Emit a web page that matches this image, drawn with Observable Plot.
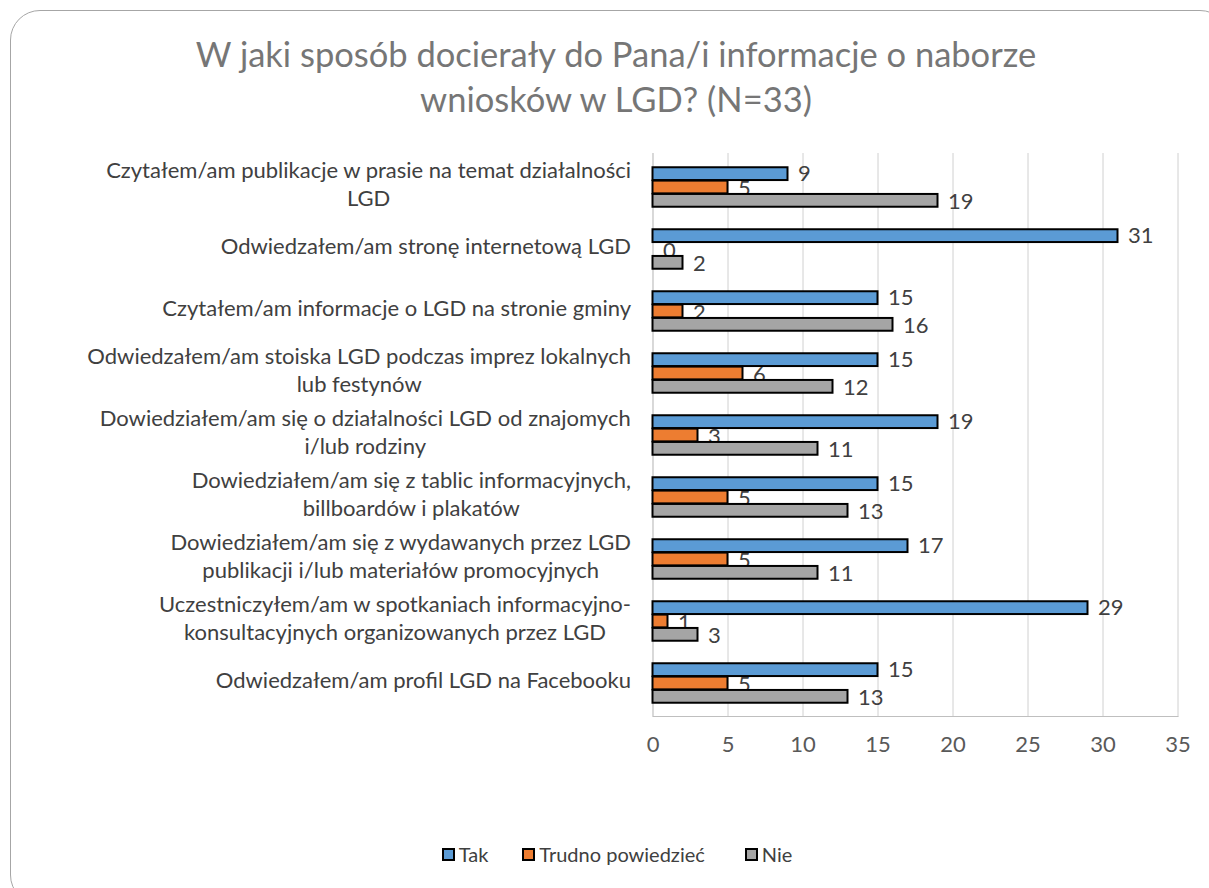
<!DOCTYPE html>
<html>
<head>
<meta charset="utf-8">
<script src="https://cdn.jsdelivr.net/npm/d3@7"></script>
<script src="https://cdn.jsdelivr.net/npm/@observablehq/plot@0.6"></script>
<style>
  html, body { margin: 0; padding: 0; background: #ffffff; }
  body { width: 1209px; height: 888px; overflow: hidden; position: relative; font-family: Lato, "Open Sans", sans-serif; }
  #frame { position: absolute; left: 10px; top: 10px; width: 1220px; height: 895px; border: 1.5px solid #a6a6a6; border-radius: 30px; box-sizing: border-box; }
  #title { position: absolute; left: 0; top: 31px; width: 1232px; text-align: center; font-size: 34.5px; line-height: 45px; color: #767676; }
  #chart { position: absolute; left: 0; top: 138px; }
  #legend { position: absolute; left: 0; top: 842px; width: 1234px; display: flex; justify-content: center; align-items: center; font-size: 20px; color: #404040; }
  .item { display: flex; align-items: center; margin: 0 17px 0 17px; }
  .item.mid { margin-right: 23px; }
  .sw { width: 9px; height: 9px; border: 2px solid #000; margin-right: 4px; }
</style>
</head>
<body>
<div id="frame"></div>
<div id="title">W jaki sposób docierały do Pana/i informacje o naborze<br>wniosków w LGD? (N=33)</div>
<div id="chart"></div>
<div id="legend"></div>
<script>
const categories = [
  "Czytałem/am publikacje w prasie na temat działalności\nLGD",
  "Odwiedzałem/am stronę internetową LGD",
  "Czytałem/am informacje o LGD na stronie gminy",
  "Odwiedzałem/am stoiska LGD podczas imprez lokalnych\nlub festynów",
  "Dowiedziałem/am się o działalności LGD od znajomych\ni/lub rodziny",
  "Dowiedziałem/am się z tablic informacyjnych,\nbillboardów i plakatów",
  "Dowiedziałem/am się z wydawanych przez LGD\npublikacji i/lub materiałów promocyjnych",
  "Uczestniczyłem/am w spotkaniach informacyjno-\nkonsultacyjnych organizowanych przez LGD",
  "Odwiedzałem/am profil LGD na Facebooku"
];
const seriesNames = ["Tak", "Trudno powiedzieć", "Nie"];
const tak    = [9, 31, 15, 15, 19, 15, 17, 29, 15];
const trudno = [5, 0, 2, 6, 3, 5, 5, 1, 5];
const nie    = [19, 2, 16, 12, 11, 13, 11, 3, 13];
const xTicks = [0, 5, 10, 15, 20, 25, 30, 35];
const colors = ["#5B9BD5", "#ED7D31", "#A5A5A5"];

const seriesValues = [tak, trudno, nie];
const tables = seriesValues.map((vals, s) =>
  categories.map((c, i) => ({category: c, series: seriesNames[s], value: vals[i]}))
);

// layout
const W = 1209, H = 630, mt = 15, mb = 52, ml = 652.5, mr = 31.5;
const step = (H - mt - mb) / categories.length;
const group = step * 0.64;
const gap = (step - group) / 2;
const bh = group / 3;

const marks = [
  Plot.gridX(xTicks.slice(1), {stroke: "#d0d0d0", strokeOpacity: 1, strokeWidth: 1}),
  Plot.ruleX([0], {stroke: "#bfbfbf", strokeWidth: 1.2}),
  Plot.frame({anchor: "bottom", stroke: "#bfbfbf", strokeWidth: 1.2})
];
const barOpts = s => ({
  x: "value", y: "category", fill: "series",
  stroke: "#000", strokeWidth: 2,
  insetTop: gap + s * bh,
  insetBottom: step - gap - (s + 1) * bh
});
const labelOpts = (s, extra) => ({
  x: "value", y: "category", text: d => String(d.value),
  dx: 10, dy: -step / 2 + gap + (s + 0.5) * bh + extra,
  textAnchor: "start", fill: "#404040", fontSize: 22
});
marks.push(
  Plot.barX(tables[0], barOpts(0)),
  Plot.barX(tables[1], barOpts(1)),
  Plot.text(tables[0], labelOpts(0, 0)),
  Plot.text(tables[1], labelOpts(1, 1.5)),
  Plot.barX(tables[2], barOpts(2)),
  Plot.text(tables[2], labelOpts(2, 1)),
  Plot.axisX(xTicks, {anchor: "bottom", tickSize: 0, tickPadding: 20, fontSize: 22, fill: "#595959"}),
  Plot.axisY({anchor: "left", tickSize: 0, tickPadding: 22, dy: -4, fontSize: 22, fill: "#404040", lineHeight: 1.27, textOverflow: null, lineWidth: Infinity})
);

const chart = Plot.plot({
  width: W, height: H,
  marginTop: mt, marginBottom: mb, marginLeft: ml, marginRight: mr,
  style: {fontFamily: "Lato, 'Open Sans', sans-serif", background: "transparent", overflow: "visible"},
  x: {domain: [0, 35], label: null},
  y: {domain: categories, padding: 0, label: null},
  color: {domain: seriesNames, range: colors},
  marks
});
document.getElementById("chart").appendChild(chart);

// center the lines of multi-line category labels within their right-aligned block
chart.querySelectorAll('g[aria-label="y-axis tick label"] text').forEach(t => {
  const spans = t.querySelectorAll("tspan");
  if (spans.length > 1) {
    const w = t.getBBox().width;
    t.setAttribute("text-anchor", "middle");
    spans.forEach(sp => sp.setAttribute("x", -w / 2));
  }
});

// legend
const legend = document.getElementById("legend");
seriesNames.forEach((name, i) => {
  const it = document.createElement("div");
  it.className = i === 1 ? "item mid" : "item";
  const sw = document.createElement("div");
  sw.className = "sw";
  sw.style.background = colors[i];
  const lab = document.createElement("span");
  lab.textContent = name;
  it.appendChild(sw); it.appendChild(lab);
  legend.appendChild(it);
});
</script>
</body>
</html>
